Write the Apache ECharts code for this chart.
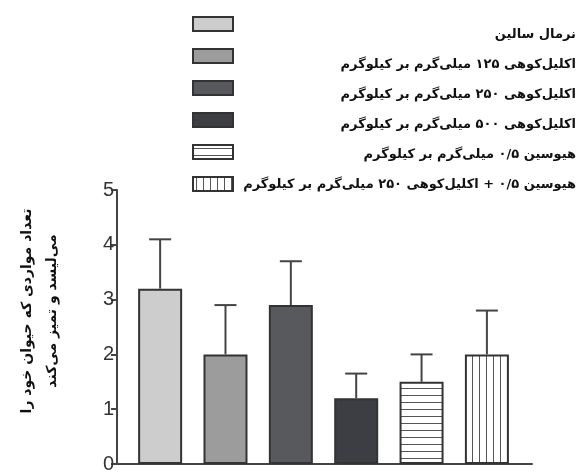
<!DOCTYPE html>
<html>
<head>
<meta charset="utf-8">
<script src="https://cdn.jsdelivr.net/npm/echarts@6/dist/echarts.min.js"></script>
<style>
  html, body { margin: 0; padding: 0; background: #fff; }
  #main { width: 579px; height: 474px; }
</style>
</head>
<body>
<div id="main"></div>
<script>
// گروه‌ها (legend order = bar order)
var groups = [
    'نرمال سالین',
    'اکلیل‌کوهی ۱۲۵ میلی‌گرم بر کیلوگرم',
    'اکلیل‌کوهی ۲۵۰ میلی‌گرم بر کیلوگرم',
    'اکلیل‌کوهی ۵۰۰ میلی‌گرم بر کیلوگرم',
    'هیوسین ۰/۵ میلی‌گرم بر کیلوگرم',
    'هیوسین ۰/۵ + اکلیل‌کوهی ۲۵۰ میلی‌گرم بر کیلوگرم'
];
var means = [3.2, 2.0, 2.9, 1.2, 1.5, 2.0];
var errorTop = [4.1, 2.9, 3.7, 1.65, 2.0, 2.8];
var yTicks = [0, 1, 2, 3, 4, 5];
var yTitle = 'تعداد مواردی که حیوان خود را\nمی‌لیسد و تمیز می‌کند';

// fills
function hatch(vertical) {
    var c = document.createElement('canvas');
    c.width = 7; c.height = 7;
    var ctx = c.getContext('2d');
    ctx.fillStyle = '#fff';
    ctx.fillRect(0, 0, 7, 7);
    ctx.fillStyle = '#555';
    if (vertical) ctx.fillRect(3, 0, 1, 7);
    else ctx.fillRect(0, 3, 7, 1);
    return { image: c, repeat: 'repeat' };
}
var fills = ['#cdcdcd', '#9c9c9c', '#58595d', '#3d3e43', hatch(false), hatch(true)];

var perFont = '"DejaVu Sans", "Noto Sans", sans-serif';

var series = [];
for (var i = 0; i < groups.length; i++) {
    series.push({
        name: groups[i],
        type: 'bar',
        barWidth: 44,
        barGap: '-100%',
        data: [[i, means[i]]],
        itemStyle: { color: fills[i], borderColor: '#333', borderWidth: 2 },
        emphasis: { disabled: true },
        z: 2
    });
}
var errData = [];
for (var j = 0; j < means.length; j++) errData.push([j, means[j], errorTop[j]]);
series.push({
    type: 'custom',
    name: 'err',
    z: 3,
    data: errData,
    renderItem: function (params, api) {
        var p0 = api.coord([api.value(0), api.value(1)]);
        var p1 = api.coord([api.value(0), api.value(2)]);
        var st = { stroke: '#444', lineWidth: 2 };
        return {
            type: 'group',
            children: [
                { type: 'line', shape: { x1: p0[0], y1: p0[1], x2: p1[0], y2: p1[1] }, style: st },
                { type: 'line', shape: { x1: p1[0] - 11, y1: p1[1], x2: p1[0] + 11, y2: p1[1] }, style: st }
            ]
        };
    }
});

// legend labels as text, right aligned
var graphics = [];
for (var k = 0; k < groups.length; k++) {
    graphics.push({
        type: 'text',
        right: 3,
        top: 28 + k * 30,
        style: {
            text: groups[k],
            font: 'bold 13px ' + perFont,
            fill: '#111'
        }
    });
}
graphics.push({
    type: 'text',
    x: 40,
    y: 311,
    rotation: Math.PI / 2,
    style: {
        text: yTitle,
        font: 'bold 14px ' + perFont,
        fill: '#111',
        align: 'center',
        verticalAlign: 'middle',
        lineHeight: 25
    }
});

var chart = echarts.init(document.getElementById('main'));
chart.setOption({
    animation: false,
    backgroundColor: '#fff',
    grid: { left: 117, right: 47, top: 190, bottom: 7 },
    legend: {
        data: groups,
        orient: 'vertical',
        left: 192,
        top: 16,
        padding: 0,
        icon: 'rect',
        itemWidth: 40,
        itemHeight: 14,
        itemGap: 16,
        formatter: function () { return ''; },
        textStyle: { fontSize: 10 },
        selectedMode: false
    },
    xAxis: {
        type: 'value',
        min: -0.66,
        max: 5.69,
        axisLine: { show: true, onZero: false, lineStyle: { color: '#444', width: 2 } },
        axisTick: { show: false },
        axisLabel: { show: false },
        splitLine: { show: false }
    },
    yAxis: {
        type: 'value',
        min: yTicks[0],
        max: yTicks[yTicks.length - 1],
        interval: 1,
        axisLine: { show: true, onZero: false, lineStyle: { color: '#444', width: 2 } },
        axisTick: { show: true, length: 6, lineStyle: { color: '#444', width: 2 } },
        axisLabel: {
            margin: 3,
            fontSize: 20,
            color: '#333',
            fontFamily: 'Liberation Sans, Arial, sans-serif'
        },
        splitLine: { show: false }
    },
    graphic: graphics,
    series: series
});
</script>
</body>
</html>
